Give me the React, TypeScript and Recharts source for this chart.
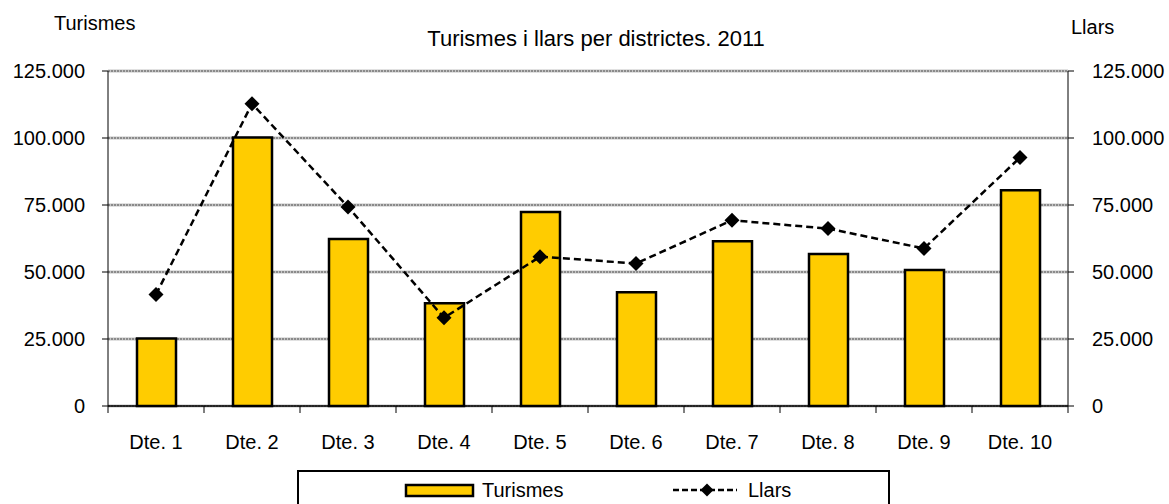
import React from 'react';
import { ComposedChart, Bar, Line, XAxis, YAxis, CartesianGrid } from 'recharts';

const categories = ['Dte. 1', 'Dte. 2', 'Dte. 3', 'Dte. 4', 'Dte. 5', 'Dte. 6', 'Dte. 7', 'Dte. 8', 'Dte. 9', 'Dte. 10'];
const turismes = [25200, 100200, 62300, 38300, 72400, 42400, 61500, 56700, 50700, 80500];
const llars = [41600, 112800, 74300, 32900, 55700, 53200, 69300, 66200, 58800, 92700];
const yTicks = [0, 25000, 50000, 75000, 100000, 125000];

const data = categories.map((c, i) => ({ name: c, Turismes: turismes[i], Llars: llars[i] }));

const FONT = '"Liberation Sans", Arial, sans-serif';
const W = 1169;
const H = 504;
const LEFT_W = 108;
const RIGHT_W = 101;
const HALF_BAND = (W - LEFT_W - RIGHT_W) / categories.length / 2;

const fmt = (v: number) => String(v).replace(/\B(?=(\d{3})+(?!\d))/g, '.');

const XTick = (props: any) => {
  const { x, y, payload, index } = props;
  return (
    <g>
      <line x1={x - HALF_BAND} y1={y} x2={x - HALF_BAND} y2={y + 7} stroke="#000" strokeWidth={1} />
      {index === categories.length - 1 && (
        <line x1={x + HALF_BAND} y1={y} x2={x + HALF_BAND} y2={y + 7} stroke="#000" strokeWidth={1} />
      )}
      <text x={x} y={y + 36} dy="0.355em" textAnchor="middle" fontSize={20} fontFamily={FONT} fill="#000">
        {payload.value}
      </text>
    </g>
  );
};

const Diamond = (props: any) => {
  const { cx, cy } = props;
  if (cx == null || cy == null) return null;
  const r = 7.5;
  return <polygon points={`${cx},${cy - r} ${cx + r},${cy} ${cx},${cy + r} ${cx - r},${cy}`} fill="#000" />;
};

export default function App() {
  return (
    <div style={{ position: 'absolute', left: 0, top: 0, width: W, height: H, overflow: 'hidden', background: '#fff' }}>
      <ComposedChart width={W} height={H} data={data} margin={{ top: 71, right: 0, bottom: 58, left: 0 }}>
        <CartesianGrid yAxisId="left" vertical={false} stroke="#c4c4c4" strokeWidth={3} />
        <CartesianGrid yAxisId="left" vertical={false} stroke="#505050" strokeWidth={1} strokeDasharray="2 1" />
        <XAxis
          dataKey="name"
          height={40}
          axisLine={{ stroke: '#000', strokeWidth: 1.5 }}
          tickLine={false}
          tickSize={0}
          tickMargin={0}
          tick={<XTick />}
          interval={0}
        />
        <YAxis
          yAxisId="left"
          width={LEFT_W}
          domain={[0, 125000]}
          ticks={yTicks}
          tickFormatter={fmt}
          axisLine={{ stroke: '#000', strokeWidth: 1 }}
          tickLine={{ stroke: '#000' }}
          tickSize={6}
          tickMargin={17}
          tick={{ fontSize: 20, fontFamily: FONT, fill: '#000' }}
          interval={0}
        />
        <YAxis
          yAxisId="right"
          orientation="right"
          width={RIGHT_W}
          domain={[0, 125000]}
          ticks={yTicks}
          tickFormatter={fmt}
          axisLine={{ stroke: '#000', strokeWidth: 1 }}
          tickLine={{ stroke: '#000' }}
          tickSize={6}
          tickMargin={18}
          tick={{ fontSize: 20, fontFamily: FONT, fill: '#000', textAnchor: 'start' }}
          interval={0}
        />
        <Bar yAxisId="left" dataKey="Turismes" fill="#FFCC00" stroke="#000" strokeWidth={2.5} barSize={39} isAnimationActive={false} />
        <Line
          yAxisId="right"
          dataKey="Llars"
          stroke="#000"
          strokeWidth={2.5}
          strokeDasharray="7 4"
          dot={<Diamond />}
          activeDot={false}
          isAnimationActive={false}
        />
      </ComposedChart>
      <svg width={W} height={H} style={{ position: 'absolute', left: 0, top: 0, pointerEvents: 'none' }}>
        <text x={54} y={23} dy="0.355em" fontSize={20} fontFamily={FONT} fill="#000">Turismes</text>
        <text x={1071} y={27} dy="0.355em" fontSize={20} fontFamily={FONT} fill="#000">Llars</text>
        <text x={596} y={38} dy="0.355em" textAnchor="middle" fontSize={22} fontFamily={FONT} fill="#000">
          Turismes i llars per districtes. 2011
        </text>
        <rect x={298} y={471} width={591} height={50} fill="none" stroke="#000" strokeWidth={2} />
        <rect x={406} y={485} width={67} height={11} fill="#FFCC00" stroke="#000" strokeWidth={2.5} />
        <text x={482} y={490} dy="0.355em" fontSize={20} fontFamily={FONT} fill="#000">Turismes</text>
        <line x1={673} y1={490} x2={737} y2={490} stroke="#000" strokeWidth={2.5} strokeDasharray="6 3" />
        <polygon points="707,483.5 713.5,490 707,496.5 700.5,490" fill="#000" />
        <text x={748} y={490} dy="0.355em" fontSize={20} fontFamily={FONT} fill="#000">Llars</text>
      </svg>
    </div>
  );
}
